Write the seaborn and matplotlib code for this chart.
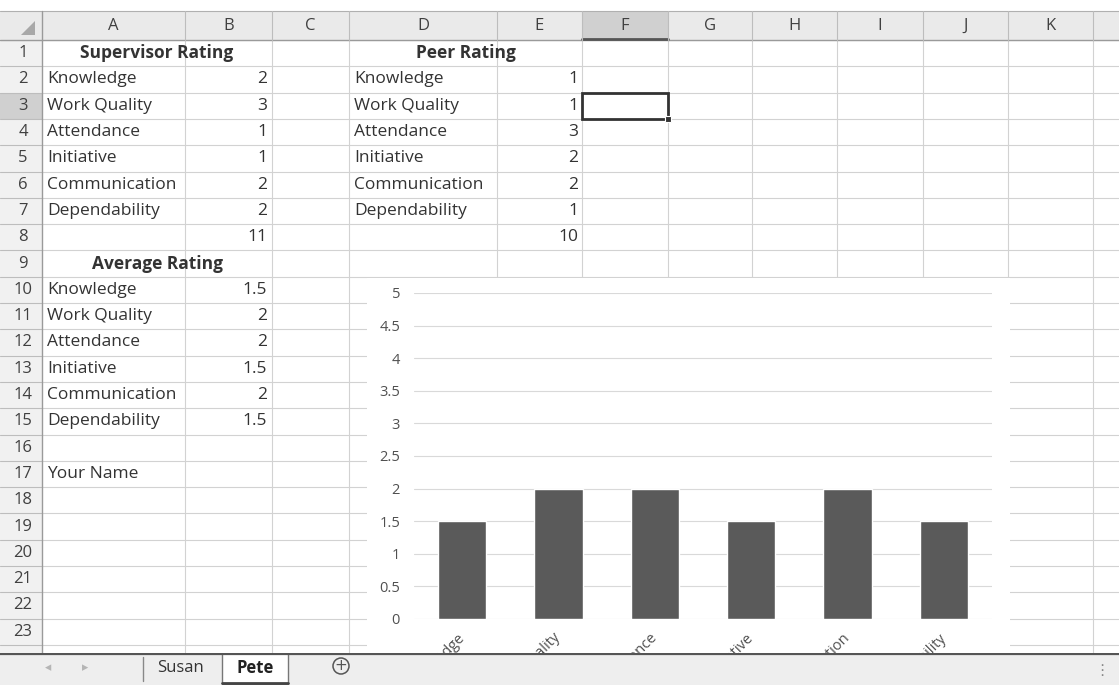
import matplotlib
matplotlib.use("Agg")
import matplotlib.pyplot as plt
from matplotlib.patches import Rectangle, Polygon, Circle
import seaborn as sns

# sheet "Pete"
categories = ["Knowledge", "Work Quality", "Attendance", "Initiative", "Communication", "Dependability"]
supervisor = [2, 3, 1, 1, 2, 2]
peer = [1, 1, 3, 2, 2, 1]
average = [1.5, 2, 2, 1.5, 2, 1.5]
supervisor_total = 11
peer_total = 10
col_letters = ["A", "B", "C", "D", "E", "F", "G", "H", "I", "J", "K"]
y_ticks = [0, 0.5, 1, 1.5, 2, 2.5, 3, 3.5, 4, 4.5, 5]
tabs = ["Susan", "Pete"]

W, H = 1119, 685
# left edge of columns A..L, then the picture edge
col_edges = [42, 185, 272, 349, 497, 582, 668, 752, 837, 923, 1008, 1093, 1119]
row_top = 40
row_h = 26.3
n_rows = 23
FONT = "Open Sans"
CELL_FS = 12.5
GRID = "#d2d2d2"

sns.set_theme(style="white")
plt.rcParams["font.family"] = [FONT, "DejaVu Sans"]

fig = plt.figure(figsize=(W / 100, H / 100), dpi=100)
fig.patch.set_facecolor("white")

# ---- spreadsheet background ----
bg = fig.add_axes([0, 0, 1, 1], zorder=0)
bg.set_xlim(0, W)
bg.set_ylim(H, 0)
bg.axis("off")


def row_y(r):
    return row_top + (r - 0.5) * row_h


# cell gridlines
y = row_top
while y < H:
    bg.plot([42, W], [y, y], color=GRID, lw=0.8, zorder=1)
    bg.plot([0, 42], [y, y], color="#bdbdbd", lw=0.8, zorder=1)
    y += row_h
for x in col_edges[1:-1]:
    bg.plot([x, x], [row_top, H], color=GRID, lw=0.8, zorder=1)

# headers
F0, F1 = col_edges[5], col_edges[6]
bg.add_patch(Rectangle((0, 11), W, row_top - 11, facecolor="#eaeaea", edgecolor="none", zorder=2))
bg.add_patch(Rectangle((0, row_top), 42, H - row_top, facecolor="#f1f1f1", edgecolor="none", zorder=0.5))
bg.add_patch(Rectangle((F0, 11), F1 - F0, row_top - 11, facecolor="#d0d0d0", edgecolor="none", zorder=2.1))
bg.add_patch(Rectangle((0, row_top + 2 * row_h), 42, row_h, facecolor="#d0d0d0", edgecolor="none", zorder=0.6))
bg.plot([0, W], [11, 11], color="#b0b0b0", lw=0.8, zorder=3)
bg.plot([0, W], [row_top, row_top], color="#9a9a9a", lw=1.0, zorder=3)
bg.plot([F0, F1], [row_top - 1, row_top - 1], color="#555555", lw=2, zorder=3)
bg.plot([42, 42], [11, H], color="#9a9a9a", lw=1.0, zorder=3)
for x in col_edges[1:-1]:
    bg.plot([x, x], [11, row_top], color="#bdbdbd", lw=0.8, zorder=3)
bg.add_patch(Polygon([[21, 35], [35, 35], [35, 21]], closed=True, facecolor="#a8a8a8",
                     edgecolor="none", zorder=3))
for i, letter in enumerate(col_letters):
    cx = (col_edges[i] + col_edges[i + 1]) / 2
    bg.text(cx, 26, letter, ha="center", va="center", fontsize=12, color="#404040", zorder=4)
for r in range(1, n_rows + 1):
    bg.text(23, row_y(r), str(r), ha="center", va="center", fontsize=12, color="#404040", zorder=4)

# cell values
ink = "#333333"
left_a = col_edges[0] + 5
right_b = col_edges[2] - 5
left_d = col_edges[3] + 5
right_e = col_edges[5] - 4
mid_ab = (col_edges[0] + col_edges[2]) / 2
mid_de = (col_edges[3] + col_edges[5]) / 2
bg.text(mid_ab, row_y(1), "Supervisor Rating", ha="center", va="center",
        fontsize=CELL_FS, fontweight="bold", color=ink, zorder=4)
bg.text(mid_de, row_y(1), "Peer Rating", ha="center", va="center",
        fontsize=CELL_FS, fontweight="bold", color=ink, zorder=4)
for i, cat in enumerate(categories):
    bg.text(left_a, row_y(i + 2), cat, ha="left", va="center", fontsize=CELL_FS, color=ink, zorder=4)
    bg.text(right_b, row_y(i + 2), f"{supervisor[i]:g}", ha="right", va="center", fontsize=CELL_FS, color=ink, zorder=4)
    bg.text(left_d, row_y(i + 2), cat, ha="left", va="center", fontsize=CELL_FS, color=ink, zorder=4)
    bg.text(right_e, row_y(i + 2), f"{peer[i]:g}", ha="right", va="center", fontsize=CELL_FS, color=ink, zorder=4)
    bg.text(left_a, row_y(i + 10), cat, ha="left", va="center", fontsize=CELL_FS, color=ink, zorder=4)
    bg.text(right_b, row_y(i + 10), f"{average[i]:g}", ha="right", va="center", fontsize=CELL_FS, color=ink, zorder=4)
bg.text(right_b, row_y(8), str(supervisor_total), ha="right", va="center", fontsize=CELL_FS, color=ink, zorder=4)
bg.text(right_e, row_y(8), str(peer_total), ha="right", va="center", fontsize=CELL_FS, color=ink, zorder=4)
bg.text(mid_ab, row_y(9), "Average Rating", ha="center", va="center",
        fontsize=CELL_FS, fontweight="bold", color=ink, zorder=4)
bg.text(left_a, row_y(17), "Your Name", ha="left", va="center", fontsize=CELL_FS, color=ink, zorder=4)

# active cell F3
bg.add_patch(Rectangle((F0, row_top + 2 * row_h), F1 - F0, row_h,
                       facecolor="none", edgecolor="#333333", lw=2, zorder=5))
bg.add_patch(Rectangle((F1 - 3, row_top + 3 * row_h - 3), 6, 6,
                       facecolor="#333333", edgecolor="white", lw=0.8, zorder=6))

# chart area (white, hides the cell grid)
bg.add_patch(Rectangle((367, row_top + 9 * row_h + 1), 1010 - 367, H - (row_top + 9 * row_h),
                       facecolor="white", edgecolor="none", zorder=2))

# ---- the chart ----
px_left, px_right, px_zero, px_top = 414, 992, 619, 293
ax = fig.add_axes([px_left / W, (H - px_zero) / H, (px_right - px_left) / W, (px_zero - px_top) / H], zorder=1)
ax.set_facecolor("none")
sns.barplot(x=categories, y=average, color="#5a5a5a", saturation=1, width=0.5, ax=ax, zorder=3)
ax.set_xlim(-0.5, len(categories) - 0.5)
ax.set_ylim(0, 5)
ax.set_yticks(y_ticks)
ax.set_yticklabels([f"{t:g}" for t in y_ticks])
ax.yaxis.grid(True, color="#d9d9d9", lw=0.8)
ax.set_axisbelow(True)
for s in ax.spines.values():
    s.set_visible(False)
ax.tick_params(axis="y", length=0, pad=10, labelsize=10.5, labelcolor="#505050")
ax.tick_params(axis="x", length=0, pad=12, labelsize=10.5, labelcolor="#505050")
for lab in ax.get_xticklabels():
    lab.set_rotation(45)
    lab.set_ha("right")
    lab.set_rotation_mode("anchor")
    lab.set_va("center")
ax.set_xlabel("")
ax.set_ylabel("")

# ---- sheet tab bar (covers the bottom of the chart) ----
tb_top = 653
tb = fig.add_axes([0, 0, 1, (H - tb_top) / H], zorder=2)
tb.set_xlim(0, W)
tb.set_ylim(H, tb_top)
tb.axis("off")
tb.add_patch(Rectangle((0, tb_top), W, H - tb_top, facecolor="#eeeeee", edgecolor="none"))
tb.plot([0, W], [tb_top + 0.5, tb_top + 0.5], color="#555555", lw=1.6)
tb.text(48, 668, "\u25c2", ha="center", va="center", fontsize=9, color="#b5b5b5", family="DejaVu Sans")
tb.text(85, 668, "\u25b8", ha="center", va="center", fontsize=9, color="#b5b5b5", family="DejaVu Sans")
tb.plot([143, 143], [tb_top + 4, H - 4], color="#888888", lw=1)
tb.text(181, 668, tabs[0], ha="center", va="center", fontsize=12, color="#333333")
tb.add_patch(Rectangle((222, tb_top), 66, H - tb_top - 1, facecolor="white", edgecolor="#777777", lw=1))
tb.plot([222, 288], [H - 2, H - 2], color="#444444", lw=2)
tb.text(255, 668, tabs[1], ha="center", va="center", fontsize=12, fontweight="bold", color="#222222")
tb.add_patch(Circle((341, 666), 8, facecolor="none", edgecolor="#555555", lw=1.1))
tb.text(341, 666, "+", ha="center", va="center", fontsize=11, color="#555555", family="DejaVu Sans")
tb.text(1102, 671, "\u22ee", ha="center", va="center", fontsize=11, color="#888888", family="DejaVu Sans")

fig.savefig("out.png", dpi=100, facecolor="white")
